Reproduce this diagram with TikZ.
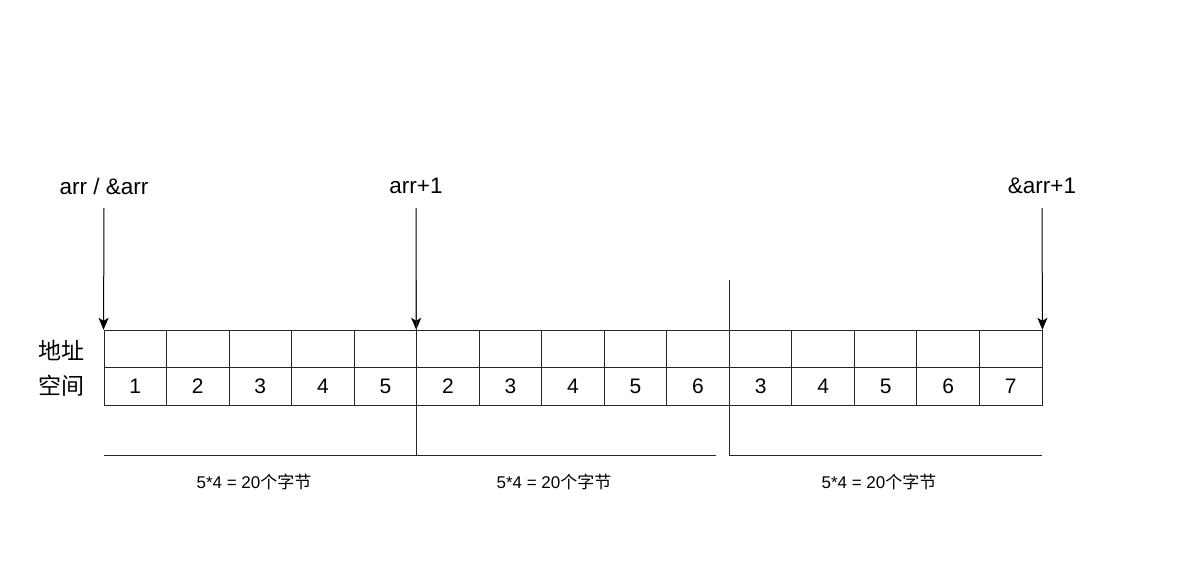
\documentclass[tikz,border=0pt]{standalone}
\usepackage{fontspec}
\setmainfont{Liberation Sans}
\newfontfamily\cjk{Noto Sans CJK SC}
\usetikzlibrary{arrows.meta}
\begin{document}
\begin{tikzpicture}[x=1pt,y=-1pt,
  line width=0.9pt,
  cell/.style={draw=black!85,rectangle,inner sep=0pt,minimum width=62.53pt,minimum height=37.5pt,font=\fontsize{21}{21}\selectfont},
  lbl/.style={font=\fontsize{22.5}{22.5}\selectfont,inner sep=0pt},
  side/.style={font=\fontsize{23}{23}\selectfont\cjk,inner sep=0pt},
  captxt/.style={font=\fontsize{17}{17}\selectfont,inner sep=0pt},
  ptr/.style={-{Stealth[length=12pt,width=10pt,inset=3pt]},line width=1pt},
  sep/.style={draw=black!85,line width=1pt}]
\useasboundingbox (0,0) rectangle (1191,586);
% cells
\foreach \i/\v in {1/1,2/2,3/3,4/4,5/5,6/2,7/3,8/4,9/5,10/6,11/3,12/4,13/5,14/6,15/7}{
  \node[cell] (t\i) at ({104+62.533*(\i-0.5)},349) {};
  \node[cell] (b\i) at ({104+62.533*(\i-0.5)},386.5) {\v};
}
% side labels
\node[side] (dz) at (61,350) {地址};
\node[side] (kj) at (61,386) {空间};
% pointer labels
\node[lbl] (L1) at (104,186) {arr / \&arr};
\node[lbl] (L2) at (416,186) {arr+1};
\node[lbl] (L3) at (1042,186) {\&arr+1};
\coordinate (a1) at (104,208);
\coordinate (a2) at (416,208);
\coordinate (a3) at (1042,208);
\draw[ptr] (a1) -- (t1.north west);
\draw[ptr] (a2) -- (t6.north west);
\draw[ptr] (a3) -- (t15.north east);
% separators
\coordinate (s1t) at (416,280);
\coordinate (s1b) at (416,455);
\coordinate (s2t) at (729,280);
\coordinate (s2b) at (729,455);
\draw[sep] (s1t) -- (s1b);
\draw[sep] (s2t) -- (s2b);
% brackets
\coordinate (h1a) at (104,455);
\coordinate (h2a) at (404,455);
\coordinate (h2b) at (716,455);
\coordinate (h3b) at (1042,455);
\draw[sep] (h1a) -- (s1b);
\draw[sep] (h2a) -- (h2b);
\draw[sep] (s2b) -- (h3b);
% captions
\node[captxt] (c1) at (254,482) {5*4 = 20{\cjk 个字节}};
\node[captxt] (c2) at (554,482) {5*4 = 20{\cjk 个字节}};
\node[captxt] (c3) at (879,482) {5*4 = 20{\cjk 个字节}};
\end{tikzpicture}
\end{document}
